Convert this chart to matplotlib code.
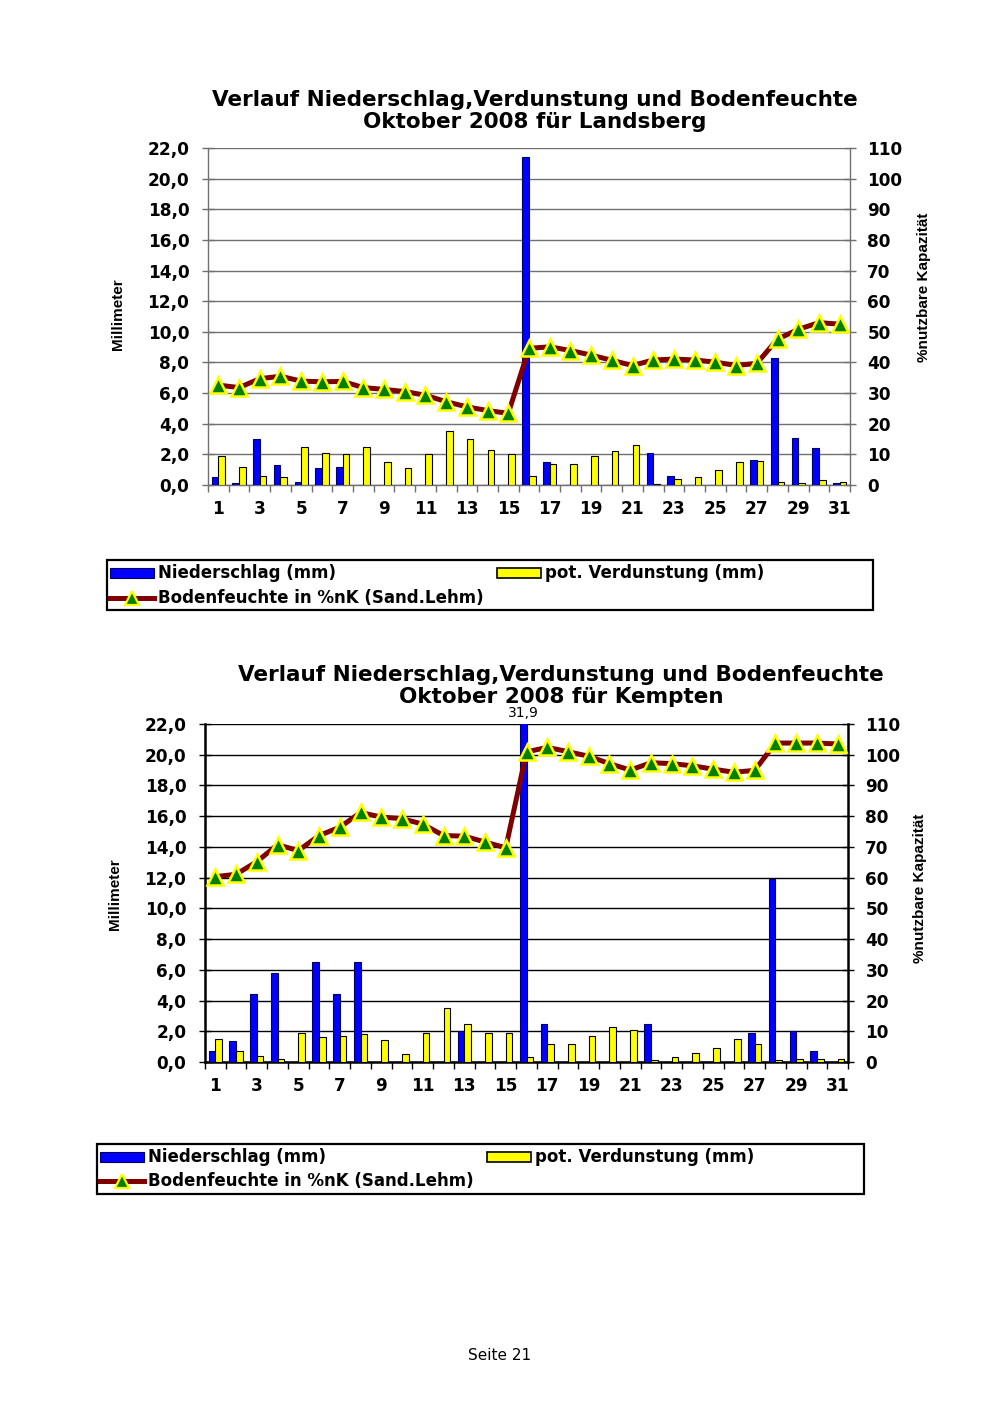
import numpy as np
import matplotlib.pyplot as plt
from matplotlib.lines import Line2D
from matplotlib.patches import Rectangle
from matplotlib.ticker import FuncFormatter

W, H = 1000, 1413

days = np.arange(1, 32)

# Landsberg, Oktober 2008
landsberg_niederschlag = [0.5, 0.1, 3.0, 1.3, 0.2, 1.1, 1.15, 0.0, 0.0, 0.0,
                          0.0, 0.0, 0.0, 0.0, 0.0, 21.4, 1.5, 0.0, 0.0, 0.0,
                          0.0, 2.1, 0.6, 0.0, 0.0, 0.0, 1.6, 8.3, 3.1, 2.4, 0.1]
landsberg_verdunstung = [1.9, 1.2, 0.6, 0.5, 2.5, 2.1, 2.0, 2.5, 1.5, 1.1,
                         2.0, 3.5, 3.0, 2.3, 2.0, 0.6, 1.4, 1.4, 1.9, 2.2,
                         2.6, 0.05, 0.4, 0.5, 1.0, 1.5, 1.55, 0.2, 0.1, 0.3, 0.2]
landsberg_bodenfeuchte = [32.6, 31.8, 34.7, 35.5, 33.9, 33.7, 33.8, 31.8, 31.2, 30.5,
                          29.3, 27.2, 25.5, 24.3, 23.4, 44.6, 45.1, 43.9, 42.4, 40.7,
                          39.0, 40.8, 41.1, 40.8, 40.1, 39.0, 39.7, 47.6, 50.8, 53.0, 52.5]

# Kempten, Oktober 2008
kempten_niederschlag = [0.7, 1.35, 4.4, 5.8, 0.0, 6.5, 4.4, 6.5, 0.0, 0.0,
                        0.0, 0.0, 2.0, 0.0, 0.0, 31.9, 2.5, 0.0, 0.0, 0.0,
                        0.0, 2.5, 0.0, 0.0, 0.0, 0.0, 1.9, 11.9, 2.0, 0.7, 0.0]
kempten_verdunstung = [1.5, 0.7, 0.4, 0.2, 1.9, 1.6, 1.7, 1.8, 1.4, 0.5,
                       1.9, 3.5, 2.5, 1.9, 1.9, 0.3, 1.2, 1.2, 1.7, 2.3,
                       2.1, 0.1, 0.3, 0.6, 0.9, 1.5, 1.2, 0.1, 0.2, 0.2, 0.2]
kempten_bodenfeuchte = [60.3, 61.1, 65.2, 70.7, 68.8, 73.7, 76.4, 81.2, 79.7, 79.2,
                        77.4, 73.7, 73.5, 71.6, 69.7, 100.9, 102.4, 101.0, 99.5, 97.1,
                        95.0, 97.4, 97.1, 96.4, 95.3, 94.3, 94.9, 103.8, 103.8, 103.8, 103.5]

title_line1 = "Verlauf Niederschlag,Verdunstung und Bodenfeuchte"
legend_labels = ["Niederschlag (mm)", "pot. Verdunstung (mm)",
                 "Bodenfeuchte in %nK (Sand.Lehm)"]

BLUE = "#0000FF"
YELLOW = "#FFFF00"
DARKRED = "#800000"
GREEN = "#008000"
BOLD = dict(family="DejaVu Sans", weight="bold")
NARROW = dict(family="Liberation Sans", weight="bold")
TICK_SIZE = 12.2
TITLE_SIZE = 15.5
LEGEND_SIZE = 12


def fx(x):
    return x / W


def fy(y):
    return 1 - y / H


fig = plt.figure(figsize=(W / 100, H / 100), dpi=100)


def draw_panel(px_box, niederschlag, verdunstung, bodenfeuchte, line_col, line_w):
    left, top, right, bottom = px_box
    ax = fig.add_axes([fx(left), fy(bottom), (right - left) / W, (bottom - top) / H])
    ax2 = ax.twinx()

    ax.bar(days - 0.16, niederschlag, width=0.32, color=BLUE,
           edgecolor="#000060", linewidth=0.8, zorder=3)
    ax.bar(days + 0.16, verdunstung, width=0.32, color=YELLOW,
           edgecolor="black", linewidth=0.8, zorder=3)

    ax.set_xlim(0.5, 31.5)
    ax.set_ylim(0, 22)
    ax.set_yticks(np.arange(0, 23, 2))
    ax.yaxis.set_major_formatter(FuncFormatter(lambda v, p: f"{v:.1f}".replace(".", ",")))
    ax.set_xticks(days[::2])
    ax.set_xticks(np.arange(0.5, 32, 1), minor=True)
    ax.tick_params(axis="x", which="major", length=0, pad=11)
    ax.tick_params(axis="x", which="minor", length=5, width=1, color=line_col, direction="out")
    ax.tick_params(axis="y", length=9, width=1, color=line_col, direction="inout", pad=9)
    for lab in ax.get_xticklabels() + ax.get_yticklabels():
        lab.set_fontproperties(dict(BOLD, size=TICK_SIZE))
    ax.grid(axis="y", color=line_col, linewidth=1)
    ax.set_axisbelow(True)

    for sp in ("left", "bottom"):
        ax.spines[sp].set_color(line_col)
        ax.spines[sp].set_linewidth(line_w)
    ax.spines["top"].set_visible(False)
    ax.spines["right"].set_visible(False)

    ax2.plot(days, bodenfeuchte, color=DARKRED, lw=3.6, marker="^", ms=11,
             mfc=GREEN, mec=YELLOW, mew=1.8, zorder=5, clip_on=False)
    ax2.set_ylim(0, 110)
    ax2.set_yticks(range(0, 111, 10))
    ax2.tick_params(axis="y", length=9, width=1, color=line_col, direction="inout", pad=8)
    for lab in ax2.get_yticklabels():
        lab.set_fontproperties(dict(BOLD, size=TICK_SIZE))
    for sp in ("left", "top", "bottom"):
        ax2.spines[sp].set_visible(False)
    ax2.spines["right"].set_color(line_col)
    ax2.spines["right"].set_linewidth(line_w)
    return ax, ax2


def draw_legend(px_box, row_y, col_x):
    x0, y0, x1, y1 = px_box
    fig.add_artist(Rectangle((fx(x0), fy(y1)), (x1 - x0) / W, (y1 - y0) / H,
                             transform=fig.transFigure, facecolor="white",
                             edgecolor="black", linewidth=1.6))
    hw = 44
    # Niederschlag
    hx = col_x[0]
    fig.add_artist(Rectangle((fx(hx), fy(row_y[0] + 5)), hw / W, 10 / H,
                             transform=fig.transFigure, facecolor=BLUE,
                             edgecolor="#000060", linewidth=0.8))
    fig.text(fx(hx + hw + 4), fy(row_y[0]), legend_labels[0], ha="left", va="center",
             fontsize=LEGEND_SIZE, **BOLD)
    # pot. Verdunstung
    hx = col_x[1]
    fig.add_artist(Rectangle((fx(hx), fy(row_y[0] + 5)), hw / W, 10 / H,
                             transform=fig.transFigure, facecolor=YELLOW,
                             edgecolor="black", linewidth=1.2))
    fig.text(fx(hx + hw + 4), fy(row_y[0]), legend_labels[1], ha="left", va="center",
             fontsize=LEGEND_SIZE, **BOLD)
    # Bodenfeuchte
    hx = col_x[0]
    fig.add_artist(Line2D([fx(hx), fx(hx + hw)], [fy(row_y[1])] * 2,
                          transform=fig.transFigure, color=DARKRED, lw=3.6))
    fig.add_artist(Line2D([fx(hx + hw / 2)], [fy(row_y[1])], transform=fig.transFigure,
                          marker="^", ms=10, mfc=GREEN, mec=YELLOW, mew=1.6,
                          linestyle="none"))
    fig.text(fx(hx + hw + 4), fy(row_y[1]), legend_labels[2], ha="left", va="center",
             fontsize=LEGEND_SIZE, **BOLD)


# ---- Landsberg ----
draw_panel((208, 148, 850, 485), landsberg_niederschlag, landsberg_verdunstung,
           landsberg_bodenfeuchte, "#707070", 1.0)
fig.text(fx(535), fy(100), title_line1, ha="center", va="center", fontsize=TITLE_SIZE, **BOLD)
fig.text(fx(535), fy(122), "Oktober 2008 für Landsberg", ha="center", va="center",
         fontsize=TITLE_SIZE, **BOLD)
fig.text(fx(118), fy(314), "Millimeter", rotation=90, ha="center", va="center",
         fontsize=11, **NARROW)
fig.text(fx(924), fy(287), "%nutzbare Kapazität", rotation=90, ha="center", va="center",
         fontsize=11, **NARROW)
draw_legend((107, 560, 873, 610), (573, 598), (110, 497))

# ---- Kempten ----
ax_k, _ = draw_panel((205, 724, 848, 1062), kempten_niederschlag, kempten_verdunstung,
                     kempten_bodenfeuchte, "black", 1.8)
fig.text(fx(561), fy(675), title_line1, ha="center", va="center", fontsize=TITLE_SIZE, **BOLD)
fig.text(fx(561), fy(697), "Oktober 2008 für Kempten", ha="center", va="center",
         fontsize=TITLE_SIZE, **BOLD)
fig.text(fx(115), fy(894), "Millimeter", rotation=90, ha="center", va="center",
         fontsize=11, **NARROW)
fig.text(fx(920), fy(888), "%nutzbare Kapazität", rotation=90, ha="center", va="center",
         fontsize=11, **NARROW)
# value label for the clipped bar
i_max = int(np.argmax(kempten_niederschlag))
ax_k.annotate(f"{kempten_niederschlag[i_max]:.1f}".replace(".", ","),
              xy=(days[i_max] - 0.16, 22), xytext=(0, 3), textcoords="offset points",
              ha="center", va="bottom", fontsize=10, family="DejaVu Sans",
              annotation_clip=False)
draw_legend((97, 1144, 864, 1194), (1157, 1181), (100, 487))

fig.text(0.5, fy(1355), "Seite 21", ha="center", va="center", fontsize=11,
         family="DejaVu Sans")

fig.savefig("out.png", dpi=100)
